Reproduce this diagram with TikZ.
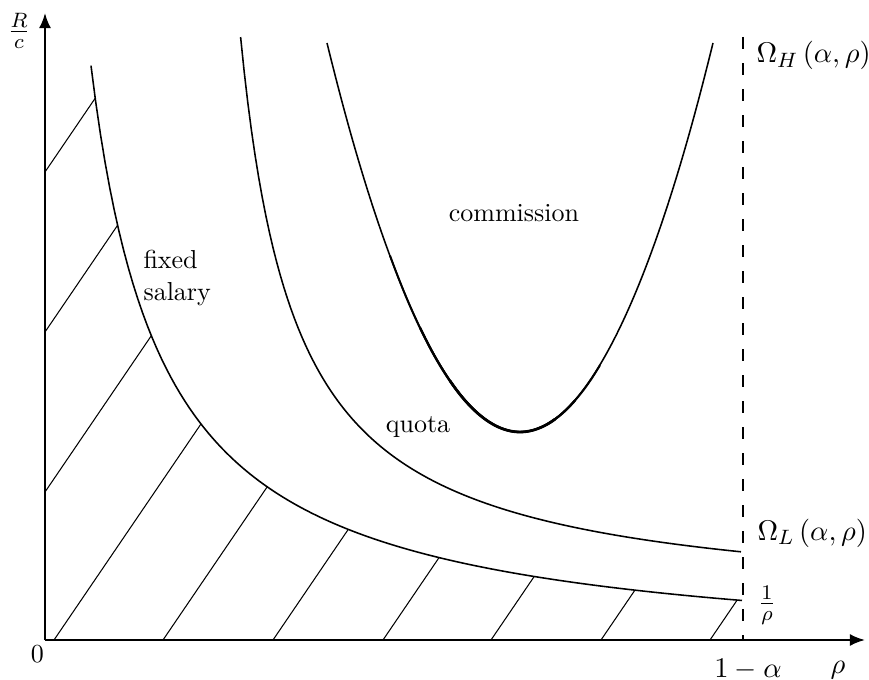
\documentclass[tikz,border=0pt]{standalone}
\usetikzlibrary{arrows.meta,intersections}
\begin{document}
\begin{tikzpicture}[x=3.846pt,y=3.846pt,
  axis/.style={line width=0.8pt, draw=black, -{Latex[length=5.8pt,width=4.6pt]}},
  curve/.style={line width=0.6pt},
  hatch/.style={line width=0.4pt},
  vdash/.style={line width=0.9pt, dash pattern=on 4.5pt off 5.5pt},
  lbl/.style={inner sep=0pt},
  mlbl/.style={inner sep=0pt, font=\fontsize{11}{13}\selectfont}]
\useasboundingbox (-4.5,-3.9) rectangle (82.4,64.0);

% axes
\coordinate (O) at (0,0);
\coordinate (xend) at (82,0);
\coordinate (yend) at (0,62.7);
\draw[axis] (O) -- (xend);
\draw[axis] (O) -- (yend);

% dashed bound 1-alpha
\coordinate (dtop) at (69.77,60.3);
\coordinate (dbot) at (69.77,0);
\draw[vdash] (dtop) -- (dbot);

% fixed salary curve 1/rho
\draw[curve, name path=fixedc] plot[domain=4.6:69.7, samples=140] (\x,{430.6/(\x+2.645)-2});

% hatching under fixed salary curve
\foreach \sx/\sy in {0/46.8, 0/30.8, 0/14.8, 0.9/0, 11.8/0, 22.8/0, 33.8/0, 44.6/0, 55.6/0, 66.5/0}{
  \path[name path=hl] (\sx,\sy) -- ++(16,23.52);
  \draw[hatch, name intersections={of=hl and fixedc, by=P}] (\sx,\sy) -- (P);
}

% quota curve Omega_L
\draw[curve] plot[domain=19.56:69.6, samples=140] (\x,{318/(\x-14)+3.1});

% commission curve Omega_H
\coordinate (pl) at (28.2,59.7);
\coordinate (pv) at (47.5,20.8);
\coordinate (pr) at (66.8,59.7);
\draw[curve] (pl) parabola bend (pv) (pr);
\draw[line width=0.75pt] (34.5,38.44) parabola bend (pv) (55.5,27.48);
\draw[line width=0.9pt] (37.5,31.24) parabola bend (pv) (53,23.96);
\draw[line width=1.05pt] (40.5,25.92) parabola bend (pv) (51,22.08);

% labels
\node[mlbl] (rc) at (-2.6,60.9) {$\frac{R}{c}$};
\node[lbl] (zero) at (-0.75,-1.4) {$0$};
\node[mlbl, anchor=base] (oma) at (70.3,-3.7) {$1-\alpha$};
\node[mlbl, anchor=base] (rho) at (79.3,-3.35) {$\rho$};
\node[mlbl, anchor=base west] (omh) at (71.1,57.7) {$\Omega_H\left(\alpha,\rho\right)$};
\node[mlbl, anchor=base west] (oml) at (71.2,10.0) {$\Omega_L\left(\alpha,\rho\right)$};
\node[mlbl] (inv) at (72.2,3.5) {$\frac{1}{\rho}$};
\node[lbl, anchor=base] (comm) at (46.9,41.9) {commission};
\node[lbl, anchor=base] (quota) at (37.3,20.8) {quota};
\node[lbl, align=left, anchor=north west] (fs) at (9.8,39.0) {fixed\\salary};
\end{tikzpicture}
\end{document}
